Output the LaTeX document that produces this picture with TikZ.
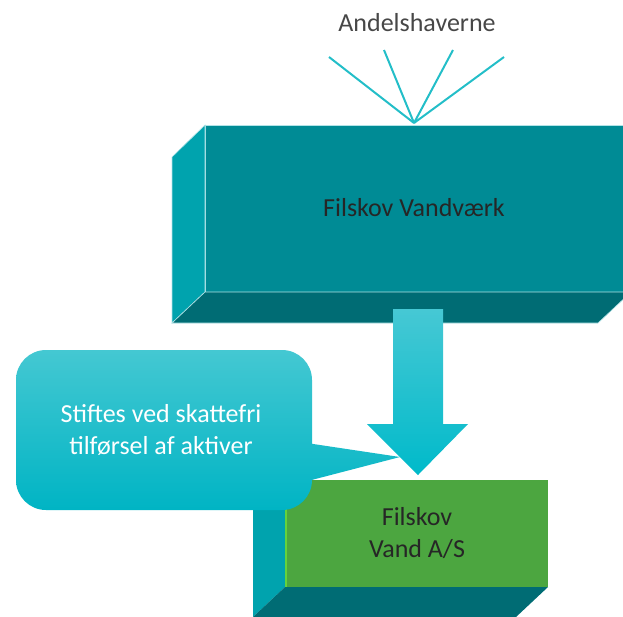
\documentclass[tikz,border=0pt]{standalone}
\usepackage{fontspec}
\setmainfont{Carlito}
\usetikzlibrary{calc}
\definecolor{tealfront}{RGB}{0,139,149}
\definecolor{tealside}{RGB}{0,163,174}
\definecolor{tealbottom}{RGB}{0,108,116}
\definecolor{linecyan}{RGB}{35,190,200}
\definecolor{arrowtop}{RGB}{70,200,212}
\definecolor{arrowbot}{RGB}{0,186,202}
\definecolor{calltop}{RGB}{68,200,210}
\definecolor{callbot}{RGB}{0,180,196}
\definecolor{boxgreen}{RGB}{76,166,64}
\definecolor{greenedge}{RGB}{100,210,60}
\definecolor{darktext}{RGB}{38,38,38}
\begin{document}
\begin{tikzpicture}[x=1pt,y=-1pt,
  lbl/.style={font=\fontsize{26}{32}\selectfont, text=darktext, inner sep=0pt, align=center},
  edge/.style={draw=white!70!tealside, line width=0.6pt},
  ray/.style={draw=linecyan, line width=2pt},
  facebox/.style={inner sep=0pt, outer sep=0pt},
]
\useasboundingbox (0,0) rectangle (623,616);
\clip (0,0) rectangle (623,616);

% owners and rays
\node[lbl, text=black!72] (andel) at (417,22.5) {Andelshaverne};
\coordinate (hub) at (414,123);
\coordinate (r1) at (329,57);
\coordinate (r2) at (384,50);
\coordinate (r3) at (453,50);
\coordinate (r4) at (504,57);
\draw[ray] (hub) -- (r1);
\draw[ray] (hub) -- (r2);
\draw[ray] (hub) -- (r3);
\draw[ray] (hub) -- (r4);

% big box
\node[facebox, fill=tealfront, edge, minimum width=426pt, minimum height=167pt] (vv) at (418,208.5) {};
\filldraw[fill=tealside, edge] (vv.north west) -- (vv.south west) -- ($(vv.south west)+(-33,31)$) -- ($(vv.north west)+(-33,32)$) -- cycle;
\filldraw[fill=tealbottom, edge] (vv.south west) -- (vv.south east) -- ($(vv.south east)+(-33,31)$) -- ($(vv.south west)+(-33,31)$) -- cycle;
\node[lbl] (vvt) at (414,208) {Filskov Vandværk};

% green box
\node[facebox, fill=boxgreen, minimum width=263pt, minimum height=107pt] (as) at (416.5,533.5) {};
\fill[tealside] (as.north west) -- (as.south west) -- ($(as.south west)+(-32,30)$) -- ($(as.north west)+(-32,30)$) -- cycle;
\fill[tealbottom] (as.south west) -- (as.south east) -- ($(as.south east)+(-32,30)$) -- ($(as.south west)+(-32,30)$) -- cycle;
\draw[greenedge, line width=1.5pt] ($(as.north west)+(1,0)$) -- ($(as.south west)+(1,0)$);
\node[lbl] (ast) at (417,533) {Filskov\\Vand A/S};

% callout
\shade[top color=calltop, bottom color=callbot] (16,350) [rounded corners=30pt] rectangle (312,510) [sharp corners] (300,483) -- (400,457) -- (300,442) -- cycle;
\node[lbl, text=white] (ct) at (161,430) {Stiftes ved skattefri\\tilførsel af aktiver};

% block arrow
\shade[top color=arrowtop, bottom color=arrowbot] (393,309) -- (443,309) -- (443,424) -- (468,424) -- (418,475) -- (367,424) -- (393,424) -- cycle;
\end{tikzpicture}
\end{document}
